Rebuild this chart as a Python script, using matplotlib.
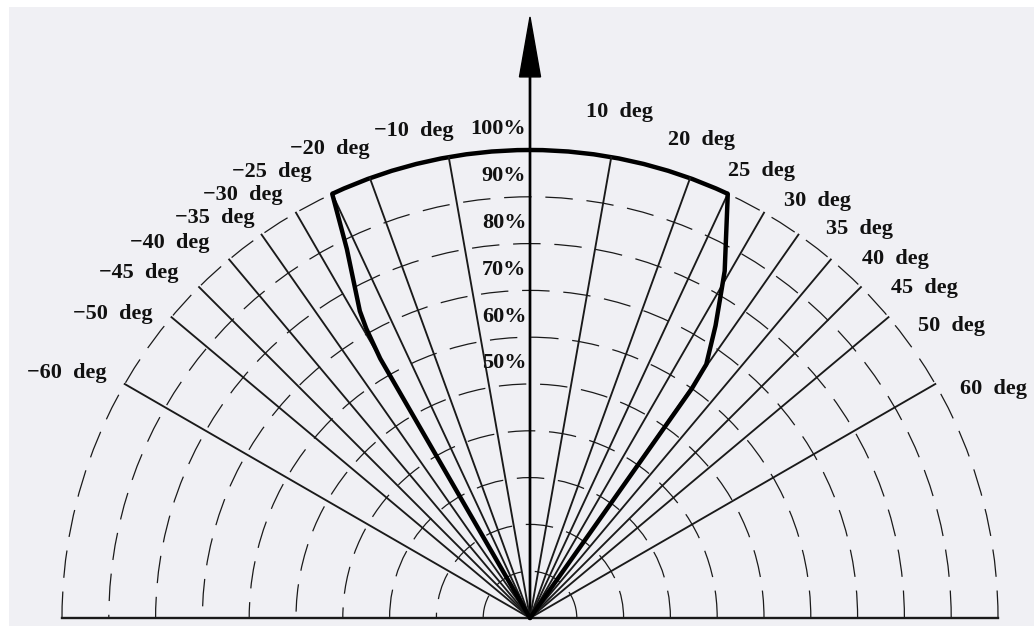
import numpy as np
import matplotlib.pyplot as plt
from matplotlib.patches import Arc, Rectangle

# radial grid lines (deg from vertical, + is right)
ray_angles = [-60, -50, -45, -40, -35, -30, -25, -20, -10, 10, 20, 25, 30, 35, 40, 45, 50, 60]
ray_labels = ["−60  deg", "−50  deg", "−45  deg", "−40  deg", "−35  deg", "−30  deg", "−25  deg",
              "−20  deg", "−10  deg", "10  deg", "20  deg", "25  deg", "30  deg", "35  deg",
              "40  deg", "45  deg", "50  deg", "60  deg"]

# dashed circles (percent)
ring_levels = [10, 20, 30, 40, 50, 60, 70, 80, 90, 100]
ring_labels = ["50%", "60%", "70%", "80%", "90%", "100%"]
ring_label_levels = [50, 60, 70, 80, 90, 100]

# bold pattern outline (angle deg, radius %)
left_deg = [-30, -30, -29.5, -29, -26.4, -25]
left_pct = [0, 64, 71, 75, 88, 100]
top_deg = [-25, 25]
top_pct = 100
right_deg = [25, 29.3, 30.6, 32.4, 34.8, 35.2, 35.5]
right_pct = [100, 85, 80, 74, 66, 60, 0]

# layout: pixel positions of the angle labels (centre)
label_px = [(67, 373), (113, 314), (139, 273), (170, 243), (215, 218), (243, 195), (272, 172),
            (330, 149), (414, 131), (620, 112), (702, 140), (762, 171), (818, 201), (859, 229),
            (895, 259), (924, 288), (952, 326), (993, 389)]

W, H = 1034, 626
ox, oy = 530, 618        # origin in pixels
scale = 4.68             # pixels per percent


def to_xy(deg, pct):
    a = np.radians(np.asarray(deg, dtype=float))
    r = np.asarray(pct, dtype=float)
    return r * np.sin(a), r * np.cos(a)


def px(x, y):
    return (x - ox) / scale, (oy - y) / scale


fig = plt.figure(figsize=(W / 100, H / 100), dpi=100)
fig.patch.set_facecolor("white")
fig.patches.append(Rectangle((9 / W, 0), 1, 1 - 7 / H, transform=fig.transFigure,
                             facecolor="#f0f0f4", edgecolor="none", zorder=-1))
ax = fig.add_axes([0, 0, 1, 1])
ax.set_xlim(-ox / scale, (W - ox) / scale)
ax.set_ylim((oy - H) / scale, oy / scale)
ax.axis("off")

line_col = "#1a1a1a"

# dashed rings
for lv in ring_levels:
    ax.add_patch(Arc((0, 0), 2 * lv, 2 * lv, theta1=0, theta2=180, color=line_col,
                     lw=0.9, linestyle=(0, (22, 11))))

# radial lines
for a in ray_angles:
    x, y = to_xy([a, a], [0, 100])
    ax.plot(x, y, color=line_col, lw=1.35)

# base line
ax.plot([-100, 100], [0, 0], color=line_col, lw=1.7)

# vertical axis arrow
tip = px(ox, 17)[1]
ax.arrow(0, 0, 0, tip, width=0.28, head_width=4.5, head_length=12.8,
         length_includes_head=True, color="black")

# bold outline
xl, yl = to_xy(left_deg, left_pct)
xr, yr = to_xy(right_deg, right_pct)
ax.plot(xl, yl, color="black", lw=3.2, solid_capstyle="round", solid_joinstyle="round")
ax.plot(xr, yr, color="black", lw=3.2, solid_capstyle="round", solid_joinstyle="round")
ax.add_patch(Arc((0, 0), 2 * top_pct, 2 * top_pct, theta1=90 - top_deg[1], theta2=90 - top_deg[0],
                 color="black", lw=3.2))

font = dict(family="Liberation Serif", fontweight="bold", fontsize=16, color="#111111")

for txt, (lx, ly) in zip(ray_labels, label_px):
    x, y = px(lx, ly)
    ax.text(x, y, txt, ha="center", va="center", **font)

for txt, lv in zip(ring_labels, ring_label_levels):
    ax.text(-0.8, lv + 4.4, txt, ha="right", va="center", **font)

fig.savefig("out.png", dpi=100)
